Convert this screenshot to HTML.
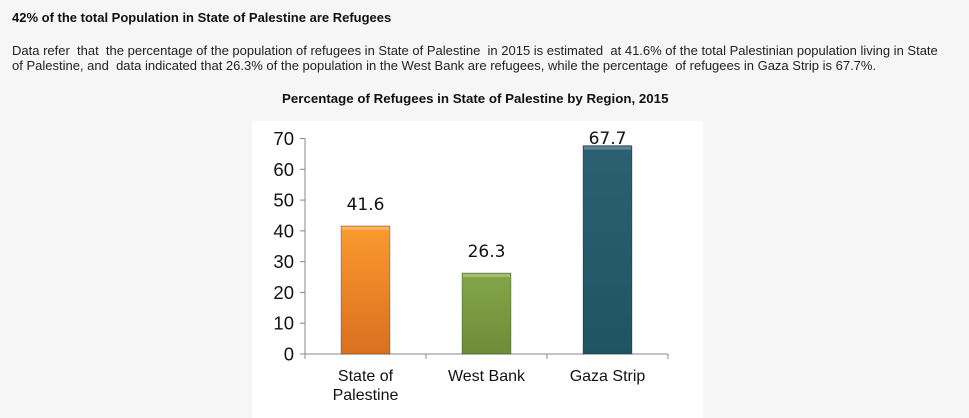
<!DOCTYPE html>
<html><head><meta charset="utf-8">
<style>
body{margin:0;width:969px;height:418px;background:#f6f6f6;font-family:"Liberation Sans",Arial,sans-serif;color:#111;position:relative;overflow:hidden}
.t{position:absolute;white-space:pre}
</style></head><body>
<div class="t" style="left:12px;top:10px;font-size:13px;font-weight:bold">42% of the total Population in State of Palestine are Refugees</div>
<div class="t" style="left:12px;top:43px;font-size:13px;line-height:15px;color:#222">Data refer  that  the percentage of the population of refugees in State of Palestine  in 2015 is estimated  at 41.6% of the total Palestinian population living in State
of Palestine, and  data indicated that 26.3% of the population in the West Bank are refugees, while the percentage  of refugees in Gaza Strip is 67.7%.</div>
<div class="t" style="left:282px;top:91px;font-size:13.3px;font-weight:bold">Percentage of Refugees in State of Palestine by Region, 2015</div>
<svg id="chart" width="969" height="418" style="position:absolute;left:0;top:0">
<defs>
<linearGradient id="g0" x1="0" y1="0" x2="0" y2="1"><stop offset="0" stop-color="#fb9a30"/><stop offset="1" stop-color="#d9701f"/></linearGradient>
<linearGradient id="g1" x1="0" y1="0" x2="0" y2="1"><stop offset="0" stop-color="#85a549"/><stop offset="1" stop-color="#6e8c38"/></linearGradient>
<linearGradient id="g2" x1="0" y1="0" x2="0" y2="1"><stop offset="0" stop-color="#2a6070"/><stop offset="1" stop-color="#1f5563"/></linearGradient>
</defs>
<rect x="252" y="121" width="451" height="297" fill="#ffffff"/>
</svg>
<script>
const categories=["State of Palestine","West Bank","Gaza Strip"];
const values=[41.6,26.3,67.7];
const labels=["41.6","26.3","67.7"];
const ticks=[0,10,20,30,40,50,60,70];
const svg=document.getElementById('chart');
const NS='http://www.w3.org/2000/svg';
const x0=305,x1=668,y0=354,yTop=138.5,ymax=70;
const yS=v=>y0-(v/ymax)*(y0-yTop);
const bw=(x1-x0)/categories.length;
function mk(t,a){const e=document.createElementNS(NS,t);for(const k in a)e.setAttribute(k,a[k]);svg.appendChild(e);return e;}
let ax=mk('line',{x1:x0,y1:yTop,x2:x0,y2:y0,stroke:'#888'});


let bx=mk('line',{x1:x0,y1:y0,x2:x1,y2:y0,stroke:'#888'});


ticks.forEach(v=>{
  mk('line',{x1:x0-5,y1:yS(v),x2:x0,y2:yS(v),stroke:'#888'});
  const t=mk('text',{x:x0-11,y:yS(v)+6.5,'text-anchor':'end','font-size':'18.5','font-family':'Liberation Sans, sans-serif',fill:'#111'});
  t.textContent=v;
  
  
});
for(let i=0;i<=categories.length;i++){mk('line',{x1:x0+i*bw,y1:y0,x2:x0+i*bw,y2:y0+5,stroke:'#888'});}
categories.forEach((c,i)=>{
  const cx=x0+bw*(i+0.5),w=49,top=yS(values[i]);
  const r=mk('rect',{x:cx-w/2,y:top,width:w,height:y0-top,fill:'url(#g'+i+')',stroke:'rgba(0,0,0,0.25)','stroke-width':'1'});
  
  
  mk('rect',{x:cx-w/2+1,y:top+1,width:w-2,height:3,fill:'rgba(255,255,255,0.25)'});
  const l=mk('text',{x:cx,y:Math.max(top-16,144),'text-anchor':'middle','font-size':'17','font-family':'DejaVu Sans, sans-serif',fill:'#111'});
  l.textContent=labels[i];
  
  
  const words=c==="State of Palestine"?["State of","Palestine"]:[c];
  words.forEach((w2,j)=>{
    const t=mk('text',{x:cx,y:381+j*19,'text-anchor':'middle','font-size':'16','font-family':'Liberation Sans, sans-serif',fill:'#111'});
    t.textContent=w2;
    
    
  });
});
</script>
</body></html>
